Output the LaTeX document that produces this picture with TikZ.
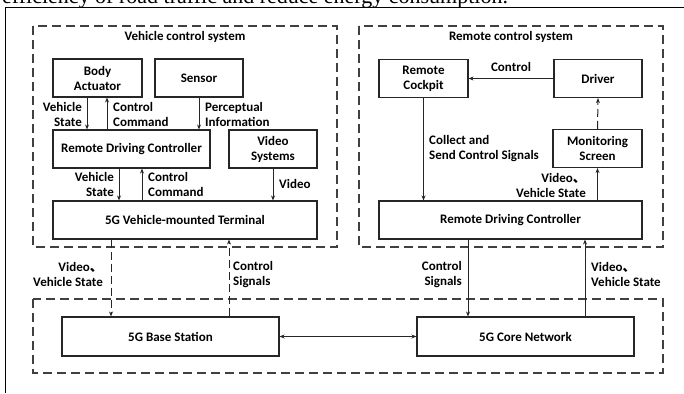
\documentclass[tikz,border=0pt]{standalone}
\usepackage{fontspec}
\setmainfont{Liberation Serif}
\newfontfamily\calib{Carlito}
\newfontfamily\cjk{Noto Sans CJK SC}
\usetikzlibrary{arrows.meta}
\newcommand{\dun}{{\cjk 、}}

\begin{document}
\begin{tikzpicture}[x=1pt,y=-1pt,
  box/.style={draw=black!85, line width=1.1pt, font=\calib\bfseries\fontsize{13}{15}\selectfont, align=center, inner sep=0pt, minimum height=38pt},
  lbl/.style={font=\calib\bfseries\fontsize{13}{15}\selectfont, inner sep=0pt},
  group/.style={draw=black!75, line width=1.1pt, dash pattern=on 9pt off 5pt},
  arr/.style={draw=black!85, line width=1pt, -{Stealth[length=5pt,width=4pt]}},
  darr/.style={arr, dash pattern=on 8pt off 4pt}]
\useasboundingbox (0,0) rectangle (684,393);
% page text and frame
\node[font=\fontsize{22}{26}\selectfont, anchor=base west, inner sep=0pt] (pagetext) at (2,4) {efficiency of road traffic and reduce energy consumption.};
\draw[line width=0.8pt] (684,7.5) -- (5,7.5) -- (5,393);
% groups
\draw[group] (33,26) rectangle (337,247);
\draw[group] (359,26) rectangle (663,247);
\draw[group] (33,299) rectangle (663,373);
\node[lbl] (vcs) at (185,37) {Vehicle control system};
\node[lbl] (rcs) at (511,37) {Remote control system};
% vehicle side
\node[box, minimum width=89pt] (body) at (97.5,78) {Body\\Actuator};
\node[box, minimum width=88pt] (sensor) at (199,78) {Sensor};
\node[box, minimum width=157pt] (rdcL) at (131.5,149) {Remote Driving Controller};
\node[box, minimum width=88pt] (video) at (273,149) {Video\\Systems};
\node[box, minimum width=264pt] (vmt) at (185,220) {5G Vehicle-mounted Terminal};
% remote side
\node[box, minimum width=89pt] (cockpit) at (423.5,78.5) {Remote\\Cockpit};
\node[box, minimum width=88pt] (driver) at (598,78.5) {Driver};
\node[box, minimum width=89pt] (monitor) at (597.5,148.5) {Monitoring\\Screen};
\node[box, minimum width=263pt] (rdcR) at (510.5,220) {Remote Driving Controller};
% network
\node[box, minimum width=217pt, minimum height=39pt] (base) at (170.5,336.5) {5G Base Station};
\node[box, minimum width=217pt, minimum height=39pt] (core) at (525.5,336.5) {5G Core Network};
% labels
\node[lbl, anchor=east, align=right] (vs1) at (82,114.5) {Vehicle\\State};
\node[lbl, anchor=west, align=left] (cc1) at (113,114.5) {Control\\Command};
\node[lbl, anchor=west, align=left] (pi) at (205,114.5) {Perceptual\\Information};
\node[lbl, anchor=east, align=right] (vs2) at (114,184.5) {Vehicle\\State};
\node[lbl, anchor=west, align=left] (cc2) at (148,184.5) {Control\\Command};
\node[lbl, anchor=west] (vid) at (279,184) {Video};
\node[lbl, anchor=east, align=right] (vvs1) at (103,274.5) {Video\dun\\Vehicle State};
\node[lbl, anchor=west, align=left] (cs1) at (233,274.5) {Control\\Signals};
\node[lbl, anchor=base] (ctl) at (511,72) {Control};
\node[lbl, anchor=west, align=left] (csig) at (429,149) {Collect and\\Send Control Signals};
\node[lbl, anchor=east, align=right] (vvs2) at (586,185) {Video\dun\\Vehicle State};
\node[lbl, anchor=east, align=right] (cs2) at (462,274.5) {Control\\Signals};
\node[lbl, anchor=west, align=left] (vvs3) at (591,274.5) {Video\dun\\Vehicle State};
% connectors
\draw[arr] ([xshift=-10.5pt]body.south) -- ([xshift=-10.5pt]body.south |- rdcL.north);
\draw[arr] ([xshift=9.5pt]body.south |- rdcL.north) -- ([xshift=9.5pt]body.south);
\draw[arr] (sensor.south) -- (sensor.south |- rdcL.north);
\draw[arr] ([xshift=-12.5pt]rdcL.south) -- ([xshift=-12.5pt]rdcL.south |- vmt.north);
\draw[arr] ([xshift=10.5pt]rdcL.south |- vmt.north) -- ([xshift=10.5pt]rdcL.south);
\draw[arr] (video.south) -- (video.south |- vmt.north);
\draw[darr] ([xshift=-74pt]vmt.south) -- ([xshift=-74pt]vmt.south |- base.north);
\draw[darr] ([xshift=44pt]vmt.south |- base.north) -- ([xshift=44pt]vmt.south);
\draw[arr] (driver.west) -- (cockpit.east);
\draw[arr] (cockpit.south) -- (cockpit.south |- rdcR.north);
\draw[darr] (monitor.north) -- (driver.south);
\draw[arr] (monitor.south |- rdcR.north) -- (monitor.south);
\draw[arr] ([xshift=-42.5pt]rdcR.south) -- ([xshift=-42.5pt]rdcR.south |- core.north);
\draw[arr] ([xshift=74.5pt]rdcR.south |- core.north) -- ([xshift=74.5pt]rdcR.south);
\draw[arr, {Stealth[length=5pt,width=4pt]}-{Stealth[length=5pt,width=4pt]}] (base.east) -- (core.west);
\end{tikzpicture}
\end{document}
